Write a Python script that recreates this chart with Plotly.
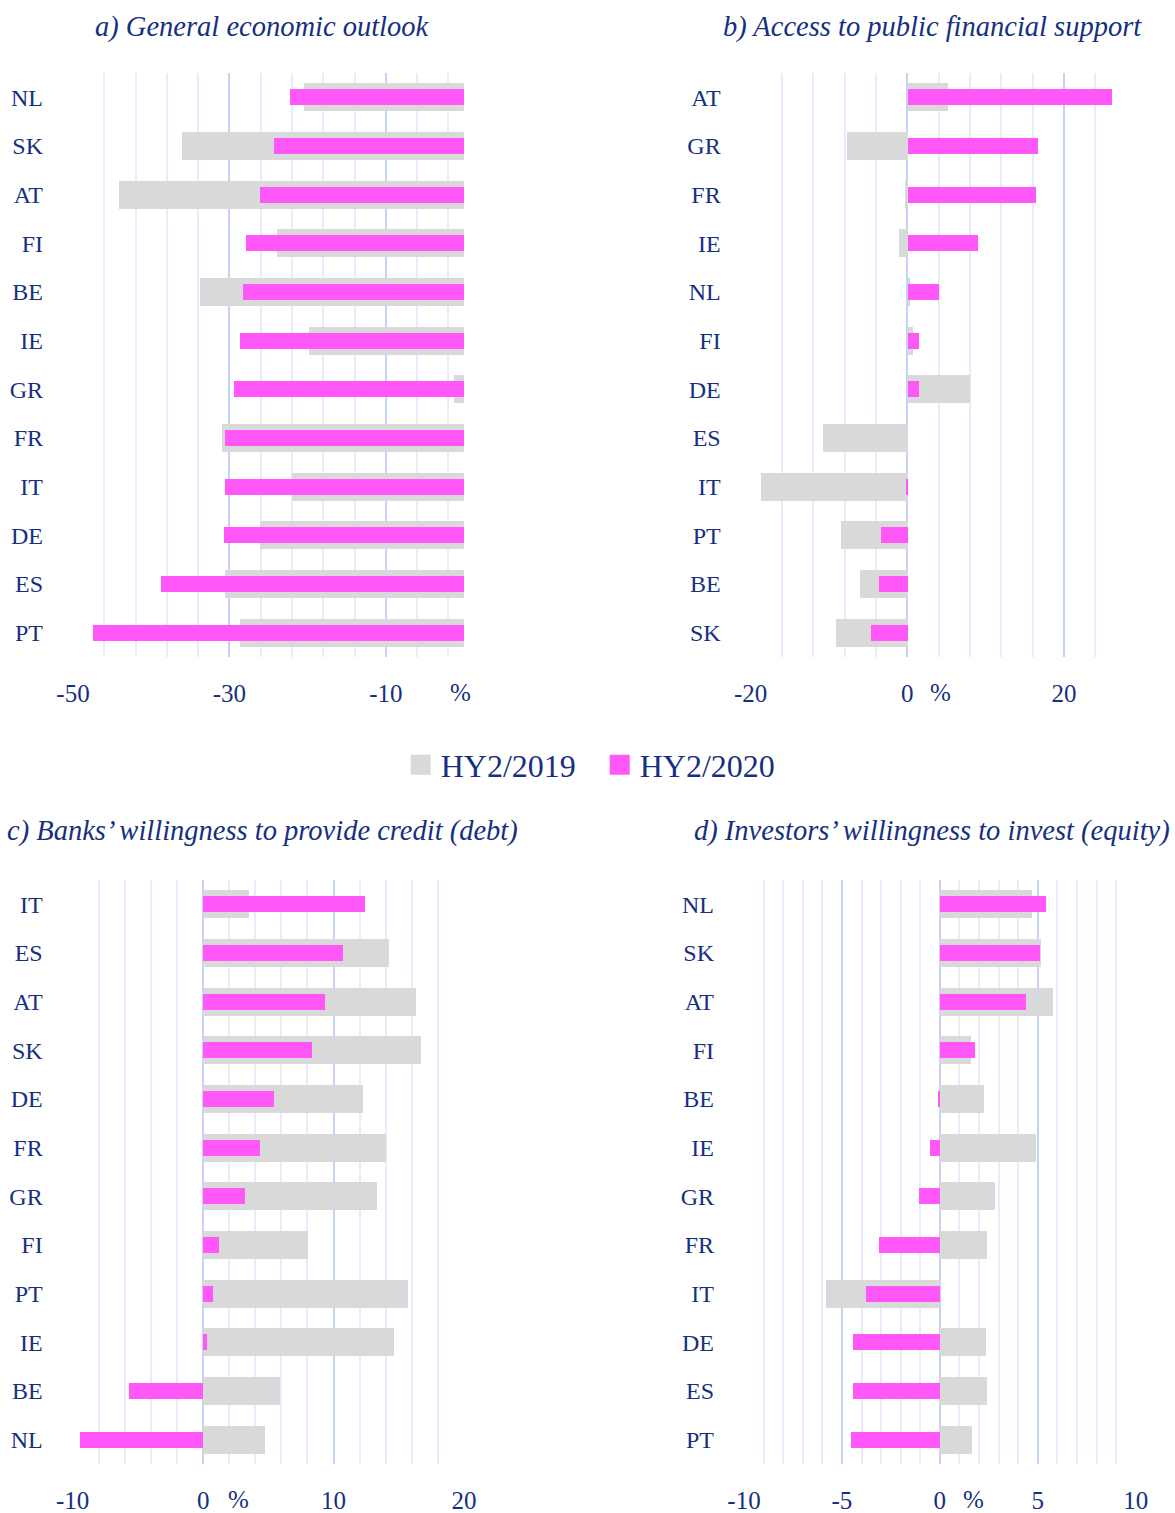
import plotly.graph_objects as go

# ---------------- data ----------------
a_cats = ["NL", "SK", "AT", "FI", "BE", "IE", "GR", "FR", "IT", "DE", "ES", "PT"]
a_2019 = [-20.4, -36.1, -44.1, -23.9, -33.7, -19.8, -1.3, -31.0, -22.0, -26.1, -30.6, -28.7]
a_2020 = [-22.2, -24.3, -26.1, -27.9, -28.3, -28.7, -29.4, -30.5, -30.6, -30.7, -38.8, -47.4]

b_cats = ["AT", "GR", "FR", "IE", "NL", "FI", "DE", "ES", "IT", "PT", "BE", "SK"]
b_2019 = [5.1, -7.7, -0.4, -1.15, 0.3, 0.7, 8.0, -10.8, -18.7, -8.5, -6.1, -9.2]
b_2020 = [26.1, 16.6, 16.4, 9.0, 3.95, 1.5, 1.5, 0.0, -0.1, -3.4, -3.6, -4.7]

c_cats = ["IT", "ES", "AT", "SK", "DE", "FR", "GR", "FI", "PT", "IE", "BE", "NL"]
c_2019 = [3.5, 14.2, 16.3, 16.7, 12.2, 14.0, 13.3, 8.0, 15.7, 14.6, 5.9, 4.7]
c_2020 = [12.4, 10.7, 9.3, 8.3, 5.4, 4.3, 3.2, 1.2, 0.7, 0.25, -5.7, -9.5]

d_cats = ["NL", "SK", "AT", "FI", "BE", "IE", "GR", "FR", "IT", "DE", "ES", "PT"]
d_2019 = [4.68, 5.16, 5.8, 1.58, 2.25, 4.92, 2.8, 2.42, -5.8, 2.38, 2.4, 1.63]
d_2020 = [5.41, 5.12, 4.39, 1.8, -0.12, -0.48, -1.04, -3.13, -3.78, -4.41, -4.43, -4.54]

titles = ["a) General economic outlook", "b) Access to public financial support",
          "c) Banks\u2019 willingness to provide credit (debt)",
          "d) Investors\u2019 willingness to invest (equity)"]
series_names = ["HY2/2019", "HY2/2020"]

# ---------------- style ----------------
NAVY = "#16307f"
GRAY = "#d9d9d9"
PINK = "#ff57f8"
MAJ = "#c6d3f7"
MIN = "#e6ecfc"
FONT = "Liberation Serif"
W, H = 1175, 1513

def px_x(p):
    return p / W

def px_y(p):
    return 1 - p / H

panels = [
    dict(cats=a_cats, v19=a_2019, v20=a_2020, x0=73, x1=464, y0=73, y1=657,
         rng=[-50, 0], major=[-50, -30, -10, 0], majtext=["-50", "-30", "-10", ""],
         minor=[-50 + 4 * k for k in range(13)], pct=460, tcx=262, tcy=27),
    dict(cats=b_cats, v19=b_2019, v20=b_2020, x0=750.7, x1=1126.7, y0=73, y1=657,
         rng=[-20, 28], major=[-20, 0, 20], majtext=["-20", "0", "20"],
         minor=[-20 + 4 * k for k in range(13)], pct=940, tcx=932, tcy=27),
    dict(cats=c_cats, v19=c_2019, v20=c_2020, x0=72.7, x1=464, y0=880, y1=1464,
         rng=[-10, 20], major=[-10, 0, 10, 20], majtext=["-10", "0", "10", "20"],
         minor=[-10 + 2 * k for k in range(16)], pct=238, tcx=262, tcy=831),
    dict(cats=d_cats, v19=d_2019, v20=d_2020, x0=744, x1=1135.7, y0=880, y1=1464,
         rng=[-10, 10], major=[-10, -5, 0, 5, 10], majtext=["-10", "-5", "0", "5", "10"],
         minor=[-10 + k for k in range(21)], pct=973, tcx=932, tcy=831),
]

fig = go.Figure()
annotations = []

for i, p in enumerate(panels):
    sfx = "" if i == 0 else str(i + 1)
    xa, ya = "x" + sfx, "y" + sfx
    fig.add_trace(go.Bar(x=p["v19"], y=p["cats"], orientation="h", marker_color=GRAY,
                         marker_line_width=0, width=0.575, xaxis=xa, yaxis=ya,
                         showlegend=False, name=series_names[0]))
    fig.add_trace(go.Bar(x=p["v20"], y=p["cats"], orientation="h", marker_color=PINK,
                         marker_line_width=0, width=0.33, xaxis=xa, yaxis=ya,
                         showlegend=False, name=series_names[1]))
    fig.layout["xaxis" + sfx] = dict(
        domain=[px_x(p["x0"]), px_x(p["x1"])], anchor=ya, range=p["rng"],
        tickmode="array", tickvals=p["major"], ticktext=p["majtext"],
        showgrid=True, gridcolor=MAJ, gridwidth=2, zeroline=False,
        minor=dict(tickmode="array", tickvals=p["minor"], showgrid=True,
                   gridcolor=MIN, gridwidth=1.5),
        ticks="", ticklabelstandoff=19, showline=False, automargin=False,
        tickfont=dict(family=FONT, size=25, color=NAVY), fixedrange=True,
    )
    fig.layout["yaxis" + sfx] = dict(
        domain=[px_y(p["y1"]), px_y(p["y0"])], anchor=xa, type="category",
        categoryorder="array", categoryarray=p["cats"],
        range=[len(p["cats"]) - 0.5, -0.5], showgrid=False, zeroline=False,
        ticks="", ticklabelstandoff=29, showline=False, automargin=False,
        tickfont=dict(family=FONT, size=24, color=NAVY), fixedrange=True,
    )
    annotations.append(dict(x=px_x(p["pct"]), y=px_y(p["y1"] + 35), xref="paper", yref="paper",
                            text="%", showarrow=False, xanchor="center", yanchor="middle",
                            font=dict(family=FONT, size=25, color=NAVY)))
    annotations.append(dict(x=px_x(p["tcx"]), y=px_y(p["tcy"]), xref="paper", yref="paper",
                            text="<i>" + titles[i] + "</i>", showarrow=False,
                            xanchor="center", yanchor="middle",
                            font=dict(family=FONT, size=28.5, color=NAVY)))

# legend entries
for name, col in zip(series_names, [GRAY, PINK]):
    fig.add_trace(go.Scatter(x=[None], y=[None], mode="markers", name=name,
                             marker=dict(symbol="square", size=16, color=col,
                                         line=dict(width=4, color=col)),
                             xaxis="x", yaxis="y", showlegend=True))

fig.update_layout(
    width=W, height=H, margin=dict(l=0, r=0, t=0, b=0, autoexpand=False),
    paper_bgcolor="white", plot_bgcolor="white", barmode="overlay",
    bargap=0, annotations=annotations,
    legend=dict(orientation="h", x=0.5104, xanchor="center", y=px_y(765), yanchor="middle",
                font=dict(family=FONT, size=32, color=NAVY), itemsizing="trace",
                tracegroupgap=0, itemwidth=30, entrywidth=154, entrywidthmode="pixels"),
    font=dict(family=FONT, color=NAVY),
)

fig.write_html("out.html", config={"displayModeBar": False},
               post_script="document.body.style.margin='0';document.body.style.overflow='hidden';")
